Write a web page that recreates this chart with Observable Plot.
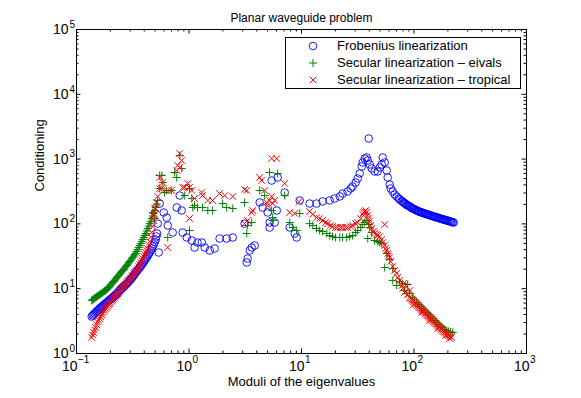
<!DOCTYPE html>
<html><head><meta charset="utf-8">
<script src="https://cdn.jsdelivr.net/npm/d3@7"></script>
<script src="https://cdn.jsdelivr.net/npm/@observablehq/plot@0.6"></script>
<style>
body{margin:0;background:#fff;}
#wrap{position:relative;width:581px;height:398px;font-family:"Liberation Sans",Arial,sans-serif;}
#legend{position:absolute;left:285px;top:37px;width:236px;height:52px;border:1px solid #000;background:#fff;box-sizing:border-box;}
.row{position:absolute;left:0;height:16px;font-size:13px;line-height:16px;color:#000;white-space:nowrap;}
.row svg{position:absolute;left:20px;top:1px;}
.row span{position:absolute;left:51px;top:0;}
</style></head><body><div id="wrap"></div>
<script>
// ---- data: [modulus of eigenvalue, conditioning] ----
const frobenius = [
 [0.1365,3.72],[0.1395,3.86],[0.142,4.0],[0.145,4.14],[0.148,4.29],[0.151,4.45],[0.154,4.61],[0.158,4.78],[0.161,4.95],[0.164,5.10],[0.168,5.25],[0.171,5.42],[0.175,5.6],[0.178,5.76],[0.182,5.93],[0.186,6.11],[0.189,6.3],[0.193,6.5],[0.197,6.7],[0.201,6.9],[0.206,7.1],[0.210,7.35],[0.214,7.6],[0.219,7.85],[0.223,8.1],[0.228,8.4],[0.232,8.7],[0.237,9.05],[0.242,9.4],[0.247,9.75],[0.252,10.1],[0.258,10.45],[0.263,10.8],[0.268,11.2],[0.274,11.6],[0.280,12.0],[0.285,12.4],[0.291,12.9],[0.297,13.4],[0.304,14.0],[0.310,14.6],[0.316,15.3],[0.323,16.0],[0.330,16.9],[0.336,17.9],[0.343,18.6],[0.350,19.4],[0.358,20.3],[0.365,21.2],[0.373,22.4],[0.380,23.6],[0.388,24.7],[0.396,25.9],[0.404,27.3],[0.412,28.8],[0.421,30.6],[0.430,32.5],[0.439,34.3],[0.448,36.3],[0.457,39.0],[0.466,41.8],[0.476,44.8],[0.486,48.0],[0.496,52.5],[0.506,57.5],[0.513,64],[0.52,71],
 [0.538,36.2],[0.549,206],[0.596,150],[0.527,101],[0.634,125],[0.647,94.5],[0.716,73.6],[0.778,179],[0.827,274],[0.861,161],[0.879,73.6],[0.955,61.7],[1.06,55.4],[1.12,43.2],[1.19,51.6],[1.30,51.6],[1.38,43.2],[1.53,38.9],[1.69,41.7],[1.87,59.5],[2.16,59.5],[2.45,61.7],[3.12,101],[3.26,25.4],[3.32,29.2],[3.47,38.9],[3.61,43.2],[3.84,46.4],[4.25,214],[4.52,179],[5.01,150],[5.21,105],[5.21,88.0],[5.78,105],[6.03,161],[5.43,467],[6.14,520],[7.09,305],[7.86,88.0],[8.70,71.1],[9.06,61.7],[9.64,230],
 [11.8,206],[13.6,206],[15.4,222],[17.8,230],[19.7,247],[21.9,265],[23.2,294],[25.7,316],[27.4,352],[28.5,378],[30.3,435],[31.6,502],[32.9,600],[34.3,769],[35.0,887],[36.5,1021],[38.0,1059],[38.8,952],[39.6,2080],[40.4,826],[42.1,716],[44.7,644],[47.6,644],[49.6,742],[51.6,826],[52.7,1059],[54.9,887],[57.2,667],[58.4,520],[60.8,405],[62.1,352],[64.7,316],[67.3,284],[70.2,265],[73.1,247],[74.6,238],[77.8,226],[79.4,220],[80.9,214],[82.6,208],[84.4,203],[86.1,197],[87.9,192],[89.7,189],[91.6,186],[93.5,181],[95.5,176],[97.4,173],[99.4,170],[102,167],[104,164],[106,161],[108,158],[110,156],[112,154],[115,152],[117,150],[119,148],[122,146],[125,144.5],[127,143],[130,141.5],[132,140],[135,138],[138,136],[141,134.5],[144,133],[147,131.5],[150,130],[153,128.5],[156,127],[159,126],[163,125],[166,123.5],[169,122],[173,120.5],[176,119],[180,118],[184,117],[187,115.7],[191,114.5],[195,113.2],[199,112],[203,111],[208,110],[212,108.5],[216,107],[221,106],[225,105]
];
const secularEivals = [
 [0.1365,6.6],[0.1395,6.75],[0.142,6.9],[0.145,7.1],[0.148,7.3],[0.151,7.5],[0.154,7.7],[0.158,7.9],[0.161,8.1],[0.164,8.3],[0.168,8.5],[0.171,8.75],[0.175,9.0],[0.178,9.2],[0.182,9.4],[0.186,9.75],[0.189,10.1],[0.193,10.5],[0.197,10.9],[0.201,11.4],[0.206,11.9],[0.210,12.4],[0.214,12.9],[0.219,13.5],[0.223,14.1],[0.228,14.7],[0.232,15.4],[0.237,16.1],[0.242,16.8],[0.247,17.5],[0.252,18.3],[0.258,19.1],[0.263,19.9],[0.268,20.8],[0.274,21.8],[0.280,22.8],[0.285,23.9],[0.291,25.1],[0.297,26.3],[0.304,27.6],[0.310,28.9],[0.316,30.4],[0.323,31.9],[0.330,33.5],[0.336,35.2],[0.343,37.6],[0.350,40.2],[0.358,43.2],[0.365,46.4],[0.373,49.8],[0.380,53.4],[0.388,57.4],[0.396,61.7],[0.404,66.2],[0.412,71],[0.421,77.7],[0.430,85],[0.439,92.7],[0.448,101],[0.457,110],[0.466,121],[0.476,132],[0.486,145],[0.496,161],[0.506,179],[0.516,203],[0.527,230],
 [0.476,150],[0.496,121],[0.549,558],[0.573,558],[0.585,435],[0.549,352],[0.608,305],[0.634,328],[0.702,328],[0.746,621],[0.778,520],[0.827,1136],[0.861,716],[0.916,274],[1.01,352],[1.06,247],[1.08,179],[1.12,192],[1.01,79.1],[0.647,61.7],[1.19,179],[1.32,179],[1.47,161],[1.62,161],[1.99,206],[2.16,179],[2.45,173],[3.12,214],[3.26,71.1],[3.32,94.5],[3.61,105],[4.25,328],[4.71,274],[5.21,621],[6.14,600],[5.43,161],[5.55,125],[5.55,113],[7.09,274],[7.86,105],[8.35,88.0],[9.06,79.1],[9.64,145],
 [11.8,101],[12.6,94.5],[13.6,84.9],[14.5,79.1],[15.4,76.3],[16.8,71.1],[17.8,66.2],[18.9,63.9],[20.1,61.7],[21.9,61.7],[23.2,61.7],[25.2,61.7],[26.8,63.9],[28.5,66.2],[30.3,73.6],[31.6,79.1],[33.6,88.0],[35.0,97.9],[36.5,105],[38.0,113],[38.8,59.5],[39.6,97.9],[40.4,88.0],[42.1,73.6],[44.7,55.4],[47.6,53.5],[49.6,51.6],[51.6,49.8],[54.9,21.2],[57.2,34.9],[60.8,28.2],[64.7,20.5],[64.7,13.4],[70.2,11.2],[74.6,12.9],[79.4,12.0],[82.6,9.38],[86.1,8.43],[87.9,11.6],[91.6,8.43],[97.3,7.31],[101,6.7],[106,6.12],[110,5.7],[115,5.31],[120,4.95],[125,4.61],[130,4.3],[135,4.0],[141,3.72],[147,3.47],[153,3.23],[159,3.01],[166,2.8],[173,2.61],[180,2.48],[187,2.35],[195,2.26],[203,2.19],[212,2.15],[221,2.11]
];
const secularTropical = [
 [0.1365,1.77],[0.1395,1.93],[0.142,2.11],[0.145,2.31],[0.148,2.52],[0.151,2.78],[0.154,3.06],[0.158,3.26],[0.161,3.47],[0.164,3.69],[0.168,3.93],[0.171,4.18],[0.175,4.45],[0.178,4.69],[0.182,4.95],[0.186,5.17],[0.189,5.41],[0.193,5.65],[0.197,5.9],[0.201,6.17],[0.206,6.46],[0.210,6.75],[0.214,7.06],[0.219,7.37],[0.223,7.7],[0.228,8.04],[0.232,8.4],[0.237,8.79],[0.242,9.2],[0.247,9.64],[0.252,10.1],[0.258,10.45],[0.263,10.8],[0.268,11.3],[0.274,11.8],[0.280,12.3],[0.285,12.9],[0.291,13.5],[0.297,14.1],[0.304,14.7],[0.310,15.4],[0.316,16.1],[0.323,16.8],[0.330,17.6],[0.336,18.4],[0.343,19.4],[0.350,20.5],[0.358,22.0],[0.365,23.6],[0.373,25.3],[0.380,27.2],[0.388,29.2],[0.396,31.3],[0.404,33.7],[0.412,36.3],[0.421,39.0],[0.430,41.8],[0.439,47.2],[0.448,53.4],[0.457,62.8],[0.466,74],[0.476,91.4],[0.486,113],[0.496,140],[0.506,172],[0.516,214],[0.527,265],
 [0.476,135],[0.496,173],[0.549,520],[0.585,435],[0.549,352],[0.573,352],[0.647,328],[0.702,328],[0.778,667],[0.794,797],[0.827,742],[0.827,1220],[0.861,952],[0.879,365],[0.916,365],[0.974,420],[1.01,365],[1.06,328],[1.12,247],[1.01,121],[0.647,43.2],[1.30,305],[1.32,274],[1.47,230],[1.62,230],[1.87,294],[2.08,274],[2.45,265],[3.12,340],[3.26,328],[4.25,520],[4.43,467],[5.43,1021],[6.03,1021],[7.09,420],[4.71,328],[4.91,214],[5.21,230],[5.55,206],[5.78,230],[5.01,192],[5.43,265],[3.61,150],[3.68,161],[3.32,113],[3.12,101],[7.86,150],[8.70,145],[9.5,220],
 [11.8,155],[12.6,140],[13.6,125],[14.5,121],[15.4,113],[16.4,105],[17.1,101],[18.2,94.5],[18.9,91.2],[20.1,88.0],[21.0,88.0],[22.3,88.0],[23.2,88.0],[24.7,88.0],[25.7,88.0],[27.4,91.2],[28.5,94.5],[30.3,101],[31.6,105],[33.6,121],[35.0,140],[35.7,150],[36.5,155],[37.2,161],[38.0,150],[38.8,135],[39.6,121],[40.4,109],[41.2,94.5],[42.1,84.9],[43.9,76.3],[44.7,71.1],[46.6,68.6],[47.6,66.2],[49.6,63.9],[51.6,57.4],[52.7,51.6],[54.9,46.4],[54.9,97.9],[56.0,41.7],[57.2,38.9],[58.4,34.9],[59.6,32.5],[60.8,30.3],[62.1,26.3],[64.7,22.0],[67.3,19.1],[70.2,17.2],[71.6,14.9],[74.6,13.4],[78.2,11.2],[79.4,10.1],[80.9,12.0],[82.6,8.74],[86.1,10.8],[87.9,8.13],[92.0,9.38],[91.6,7.31],[93.5,7.05],[95.5,6.81],[97.4,6.58],[99.4,6.35],[102,6.13],[104,5.91],[106,5.71],[108,5.51],[110,5.32],[112,5.13],[115,4.95],[117,4.77],[119,4.61],[122,4.45],[125,4.29],[127,4.14],[130,4.0],[132,3.86],[135,3.72],[138,3.59],[141,3.47],[144,3.35],[147,3.23],[150,3.12],[153,3.01],[156,2.90],[159,2.80],[163,2.71],[166,2.61],[169,2.52],[173,2.43],[176,2.35],[180,2.27],[184,2.19],[187,2.13],[191,2.07],[195,2.01],[199,1.96],[203,1.91],[208,1.86],[212,1.81],[216,1.77],
 [99.4,5.71],[117,4.29],[138,3.23],[163,2.43],[191,1.90],[208,1.70]
];
const seriesNames = ["Frobenius linearization","Secular linearization \u2013 eivals","Secular linearization \u2013 tropical"];
const seriesColors = ["#0000ff","#008000","#ff0000"];
const seriesSymbols = ["circle","plus","times"];
const xDecades = [0.1,1,10,100,1000];
const xExponents = ["\u22121","0","1","2","3"];
const yDecades = [1,10,100,1000,10000,100000];
const yExponents = ["0","1","2","3","4","5"];
const titleText = "Planar waveguide problem";
const xLabel = "Moduli of the eigenvalues";
const yLabel = "Conditioning";

// ---- layout ----
const W=581,H=398,mL=76,mR=55,mT=29,mB=45;
const fw=W-mL-mR, fh=H-mT-mB;
const font='"Liberation Sans", Arial, Helvetica, sans-serif';
const mult=[2,3,4,5,6,7,8,9];
const xMinor = xDecades.slice(0,-1).flatMap(d=>mult.map(m=>d*m));
const yMinor = yDecades.slice(0,-1).flatMap(d=>mult.map(m=>d*m));
const px=d=>d[0], py=d=>d[1];
const majT=4.5, minT=2.5;

const chart = Plot.plot({
  width:W, height:H, marginLeft:mL, marginRight:mR, marginTop:mT, marginBottom:mB,
  style:{fontFamily:font, background:"white", overflow:"visible"},
  x:{type:"log", domain:[0.1,1000], axis:null},
  y:{type:"log", domain:[1,1e5], axis:null},
  marks:[
    Plot.dot(frobenius,{x:px,y:py,r:3.8,stroke:seriesColors[0],strokeWidth:0.9,fill:"none"}),
    Plot.dot(secularEivals,{x:px,y:py,symbol:"plus",r:2.7,stroke:seriesColors[1],strokeWidth:1,fill:"none"}),
    Plot.dot(secularTropical,{x:px,y:py,symbol:"times",r:3.1,stroke:seriesColors[2],strokeWidth:1,fill:"none"}),
    // ticks (inward, all four sides)
    Plot.ruleX(xDecades,{insetTop:fh-majT,stroke:"black"}),
    Plot.ruleX(xDecades,{insetBottom:fh-majT,stroke:"black"}),
    Plot.ruleX(xMinor,{insetTop:fh-minT,stroke:"black"}),
    Plot.ruleX(xMinor,{insetBottom:fh-minT,stroke:"black"}),
    Plot.ruleY(yDecades,{insetRight:fw-majT,stroke:"black"}),
    Plot.ruleY(yDecades,{insetLeft:fw-majT,stroke:"black"}),
    Plot.ruleY(yMinor,{insetRight:fw-minT,stroke:"black"}),
    Plot.ruleY(yMinor,{insetLeft:fw-minT,stroke:"black"}),
    Plot.frame({stroke:"black",strokeWidth:1}),
    // x tick labels
    Plot.text(xDecades.slice(0,1),{x:d=>d,text:()=>"10",frameAnchor:"bottom",dy:17.5,dx:1,textAnchor:"end",fontSize:14,fill:"black"}),
    Plot.text(xDecades.slice(0,1),{x:d=>d,text:(d,i)=>xExponents[i],frameAnchor:"bottom",dy:9.5,dx:1.5,textAnchor:"start",fontSize:10,fill:"black"}),
    Plot.text(xDecades.slice(1),{x:d=>d,text:()=>"10",frameAnchor:"bottom",dy:17.5,dx:3,textAnchor:"end",fontSize:14,fill:"black"}),
    Plot.text(xDecades.slice(1),{x:d=>d,text:(d,i)=>xExponents[i+1],frameAnchor:"bottom",dy:9.5,dx:3.5,textAnchor:"start",fontSize:10,fill:"black"}),
    // y tick labels
    Plot.text(yDecades,{y:d=>d,text:()=>"10",frameAnchor:"left",dx:-8,dy:0,textAnchor:"end",fontSize:14,fill:"black"}),
    Plot.text(yDecades,{y:d=>d,text:(d,i)=>yExponents[i],frameAnchor:"left",dx:-7,dy:-5,textAnchor:"start",fontSize:10,fill:"black"}),
    // titles
    Plot.text([titleText],{text:d=>d,frameAnchor:"top",dy:-16,fontSize:12,fill:"black"}),
    Plot.text([xLabel],{text:d=>d,frameAnchor:"bottom",dy:32,fontSize:13,fill:"black"}),
    Plot.text([yLabel],{text:d=>d,frameAnchor:"left",dx:-37,rotate:-90,fontSize:13,fill:"black"})
  ]
});
const wrap=document.getElementById("wrap");
wrap.appendChild(chart);

// legend (HTML overlay inside the axes box)
const leg=document.createElement("div"); leg.id="legend";
const glyph={
  circle:c=>`<circle cx="7" cy="7" r="3.8" fill="none" stroke="${c}" stroke-width="0.9"/>`,
  plus:c=>`<path d="M3,7H11M7,3V11" stroke="${c}" stroke-width="1" fill="none"/>`,
  times:c=>`<path d="M3.7,3.7L10.3,10.3M10.3,3.7L3.7,10.3" stroke="${c}" stroke-width="1" fill="none"/>`
};
seriesNames.forEach((name,i)=>{
  const row=document.createElement("div"); row.className="row"; row.style.top=(i*17)+"px";
  row.innerHTML=`<svg width="14" height="14">${glyph[seriesSymbols[i]](seriesColors[i])}</svg><span>${name}</span>`;
  leg.appendChild(row);
});
wrap.appendChild(leg);
</script>
</body></html>
